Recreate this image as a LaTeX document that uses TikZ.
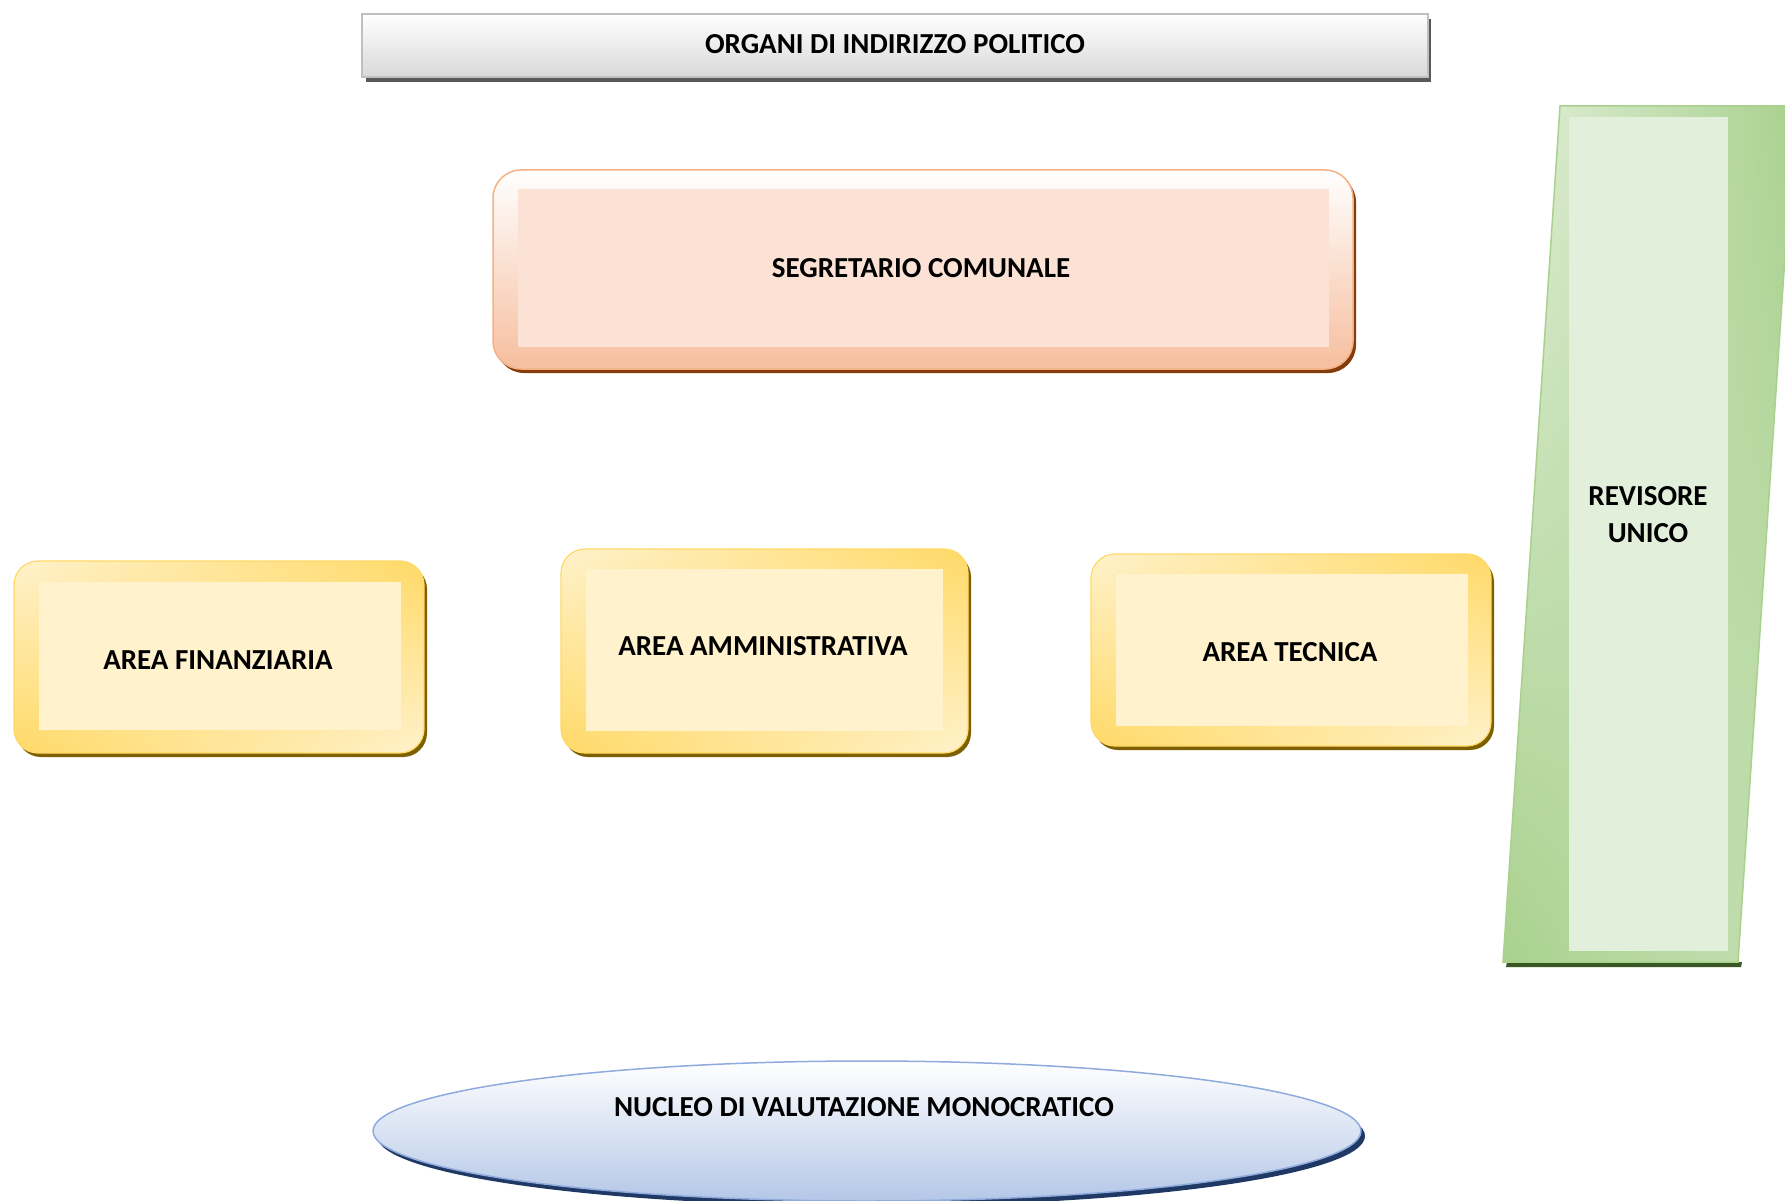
\documentclass[tikz,border=0pt]{standalone}
\usepackage{fontspec}
\setmainfont{Carlito}
\usetikzlibrary{shapes.geometric,shadings}
\definecolor{grayedge}{HTML}{BFBFBF}
\definecolor{graybot}{HTML}{D9D9D9}
\definecolor{grayshadow}{HTML}{595959}
\definecolor{peachedge}{HTML}{F4B183}
\definecolor{peachbot}{HTML}{F6BE9E}
\definecolor{peachin}{HTML}{FBE2D5}
\definecolor{peachshadow}{HTML}{843C0C}
\definecolor{goldedge}{HTML}{FFD966}
\definecolor{goldlight}{HTML}{FFF2CC}
\definecolor{goldshadow}{HTML}{7F6000}
\definecolor{greenedge}{HTML}{A9D18E}
\definecolor{greenlight}{HTML}{E2EFDA}
\definecolor{greenmid}{HTML}{C5E0B4}
\definecolor{greenshadow}{HTML}{385723}
\definecolor{blueedge}{HTML}{8FAADC}
\definecolor{bluebot}{HTML}{B4C7E7}
\definecolor{blueshadow}{HTML}{1F3864}
\begin{document}
\begin{tikzpicture}[x=1pt,y=-1pt,
  lbl/.style={font=\bfseries\fontsize{29}{37}\selectfont, text=black, align=center, inner sep=0pt},
  areabox/.style={rounded corners=24pt, upper left=goldlight, upper right=goldedge, lower left=goldedge, lower right=goldlight, draw=goldedge, line width=1.2pt},
  areashadow/.style={rounded corners=24pt, fill=goldshadow},
  areain/.style={fill=goldlight}
]
\useasboundingbox (0,0) rectangle (1785,1201);
\begin{scope}
\clip (0,0) rectangle (1785,1201);
% top box
\fill[grayshadow] (366,19) rectangle (1431,82);
\shade[top color=white, bottom color=graybot, draw=grayedge, line width=1.5pt] (362,14) rectangle (1428,77);
\node[lbl] (org) at (895,44) {ORGANI DI INDIRIZZO POLITICO};
% segretario
\fill[peachshadow, rounded corners=28pt] (496,174) rectangle (1356,373);
\shade[rounded corners=28pt, top color=white, bottom color=peachbot, draw=peachedge, line width=1.5pt] (493,170) rectangle (1353,369);
\fill[peachin] (518,189) rectangle (1329,347);
\node[lbl] (seg) at (921,268) {SEGRETARIO COMUNALE};
% area finanziaria
\fill[areashadow] (17,565) rectangle (427,757);
\shade[areabox] (14,561) rectangle (424,753);
\fill[areain] (39,582) rectangle (401,730);
\node[lbl] (fin) at (218,660) {AREA FINANZIARIA};
% area amministrativa
\fill[areashadow] (564,553) rectangle (971,757);
\shade[areabox] (561,549) rectangle (968,753);
\fill[areain] (586,569) rectangle (943,731);
\node[lbl] (amm) at (763,646) {AREA AMMINISTRATIVA};
% area tecnica
\fill[areashadow] (1094,558) rectangle (1494,750);
\shade[areabox] (1091,554) rectangle (1491,746);
\fill[areain] (1116,574) rectangle (1468,726);
\node[lbl] (tec) at (1290,652) {AREA TECNICA};
% revisore
\fill[greenshadow] (1507,962) -- (1742,962) -- (1741,967) -- (1506,967) -- cycle;
\shade[upper left=greenlight, upper right=greenedge, lower left=greenedge, lower right=greenmid, draw=greenedge, line width=1.5pt] (1560,106) -- (1795,106) -- (1738,962) -- (1503,962) -- cycle;
\fill[greenlight] (1569,117) rectangle (1728,951);
\node[lbl] (rev) at (1648,515) {REVISORE\\UNICO};
% nucleo
\fill[blueshadow] (871,1136) ellipse [x radius=494, y radius=70];
\shade[top color=white, bottom color=bluebot, draw=blueedge, line width=1.5pt] (867,1131) ellipse [x radius=494, y radius=70];
\node[lbl] (nuc) at (864,1107) {NUCLEO DI VALUTAZIONE MONOCRATICO};
\end{scope}
\end{tikzpicture}
\end{document}
